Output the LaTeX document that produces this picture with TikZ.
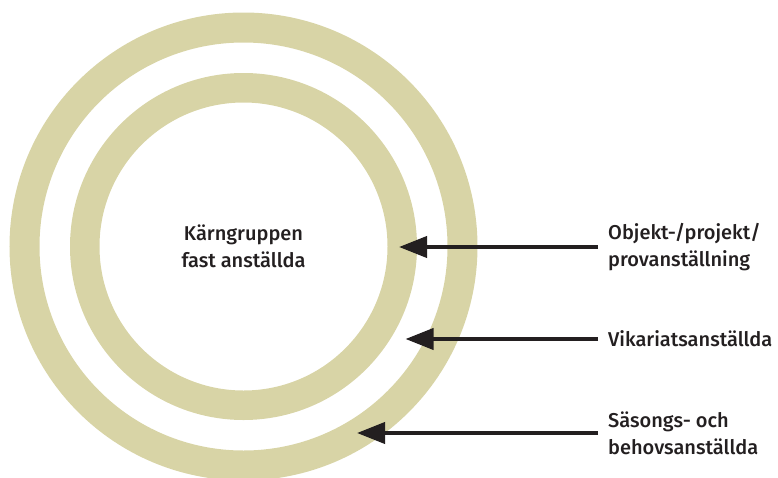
\documentclass[tikz,border=0pt]{standalone}
\usepackage{fontspec}
\setmainfont{Fira Sans Medium}
\usetikzlibrary{arrows.meta, positioning}
\definecolor{ringfarg}{HTML}{D8D4A6}
\definecolor{mork}{HTML}{231F20}
\begin{document}
\begin{tikzpicture}[x=1pt,y=1pt,
        ring/.style={draw=ringfarg},
        etikett/.style={anchor=west,inner xsep=0pt,align=left,text=mork,
          font=\fontsize{20}{27}\selectfont},
        pil/.style={draw=mork,line width=4pt,-{Triangle[length=28pt,width=21pt]}}]
        \useasboundingbox (0,0) rectangle (778,-477);
        \coordinate (C) at (243.5,-246.5);
        \draw[ring,line width=30pt] (C) circle (219);
        \draw[ring,line width=29.5pt] (C) circle (158.75);
        \node[align=center,text=mork,font=\fontsize{20}{27}\selectfont] (core) at (C) {Kärngruppen\\fast anställda};

        \node[etikett] (obj) at (608,-247) {Objekt-/projekt/\\provanställning};
        \node[etikett] (vik) at (608,-339) {Vikariatsanställda};
        \node[etikett] (sas) at (608,-433) {Säsongs- och\\behovsanställda};
        \coordinate (tipA) at (399,-247);
        \coordinate (tipB) at (405.5,-339);
        \coordinate (tipC) at (357,-433);

        \foreach \s/\t in {obj/tipA, vik/tipB, sas/tipC} {
        \draw[pil] ([xshift=-10pt]\s.west) -- (\s.west -| \t);}
        \end{tikzpicture}
\end{document}
